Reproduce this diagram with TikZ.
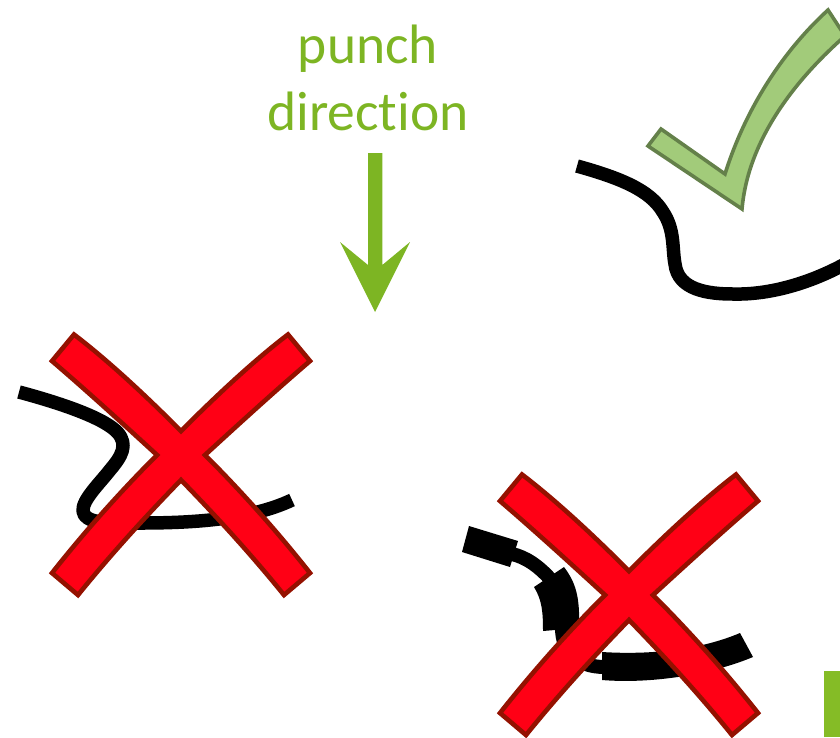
\documentclass[tikz,border=0pt]{standalone}
\usepackage{fontspec}
\setmainfont[Ligatures=NoCommon]{Carlito}
\definecolor{punchgreen}{HTML}{7DB523}
\definecolor{blockgreen}{HTML}{85BC26}
\definecolor{checkfill}{HTML}{A2CB7A}
\definecolor{checkline}{HTML}{64804A}
\definecolor{crossfill}{HTML}{FF0015}
\definecolor{crossline}{HTML}{941100}
\tikzset{
  crossmark/.style={fill=crossfill,draw=crossline,line width=4.6pt,line join=miter},
  checkmark/.style={fill=checkfill,draw=checkline,line width=3.6pt,line join=miter},
  sheet/.style={draw=black,line width=13.5pt,line cap=butt,line join=round},
  label/.style={text=punchgreen,align=center,font=\fontsize{55.5}{67}\selectfont,inner sep=0pt}
}
\newcommand{\crossshape}{%
  \path[crossmark] (74,334.5)
    .. controls (110,362) and (148,398) .. (181,431)
    .. controls (214,398) and (252,362) .. (288,334.5)
    -- (310,361)
    .. controls (275,391) and (241,422) .. (205,455)
    .. controls (245,495) and (280,535) .. (310,573)
    -- (284,595)
    .. controls (250,553) and (215,515) .. (181,480)
    .. controls (147,515) and (112,553) .. (78,595)
    -- (52,573)
    .. controls (82,535) and (117,495) .. (157,455)
    .. controls (121,422) and (87,391) .. (52,361)
    -- cycle;}
\begin{document}
\begin{tikzpicture}[x=1pt,y=-1pt]
\useasboundingbox (0,0) rectangle (840,737);
\clip (0,0) rectangle (840,737);
% heading and arrow
\node[label] (punchlabel) at (368,78) {punch\\direction};
\path[fill=punchgreen] (368,153) -- (382.3,153) -- (382.3,265) -- (410,242) -- (375,312) -- (340,242) -- (368,265) -- cycle;
% check mark
\path[checkmark] (661,129) -- (725,174)
  .. controls (745,110) and (782,52) .. (828,10)
  -- (845,36)
  .. controls (795,80) and (748,140) .. (742,209)
  -- (648,146) -- cycle;
% good sheet
\draw[sheet] (577,166)
  .. controls (620,178) and (650,190) .. (663,212)
  .. controls (675,230) and (672,248) .. (675,264)
  .. controls (678,290) and (708,294) .. (733,294)
  .. controls (770,295) and (810,283) .. (845,264);
% folded sheet
\draw[sheet] (19,392)
  .. controls (60,403) and (105,418) .. (118,433)
  .. controls (128,445) and (122,456) .. (110,470)
  .. controls (100,483) and (82,500) .. (83,511)
  .. controls (84,524) and (110,523) .. (140,523)
  .. controls (190,523) and (250,520) .. (292,500);
\crossshape
% sheet with uneven thickness
\path[fill=black] (469,526) -- (518,541) -- (510,567) -- (462,552) -- cycle;
\draw[black,line width=14pt] (512,554) .. controls (525,557) and (538,565) .. (552,581);
\path[fill=black] (564,567)
  .. controls (576,583) and (580,597) .. (579,628)
  -- (543,631)
  .. controls (543,612) and (542,600) .. (534,587) -- cycle;
\draw[black,line width=14pt] (562,628) .. controls (562,650) and (575,667) .. (605,667);
\path[fill=black] (602,652)
  .. controls (650,655) and (700,650) .. (740,633)
  -- (753,657)
  .. controls (710,675) and (650,684) .. (602,680) -- cycle;
\begin{scope}[shift={(448,140)}]
\crossshape
\end{scope}
% block at lower right
\path[fill=blockgreen] (824,671) rectangle (840,737);
\end{tikzpicture}
\end{document}
